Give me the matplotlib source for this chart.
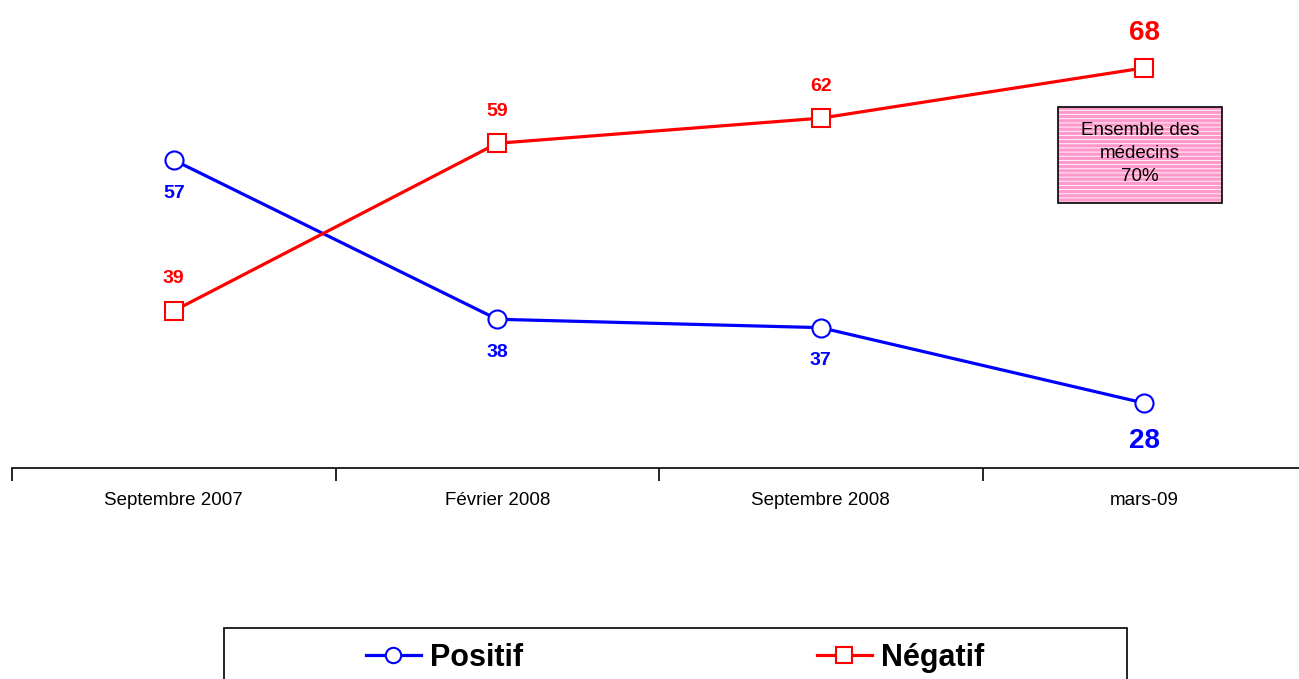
import matplotlib
matplotlib.use("Agg")
import matplotlib.pyplot as plt
from matplotlib.patches import Rectangle

plt.rcParams["font.family"] = ["Liberation Sans", "DejaVu Sans"]
plt.rcParams["hatch.linewidth"] = 0.6

# ---- data ----
periods = ["Septembre 2007", "Février 2008", "Septembre 2008", "mars-09"]
positif = [57, 38, 37, 28]
negatif = [39, 59, 62, 68]
note_text = "Ensemble des\nmédecins\n70%"

BLUE = "#0000FF"
RED = "#FF0000"
PINK = "#FF99CC"

fig = plt.figure(figsize=(12.99, 6.79), dpi=100)
ax = fig.add_axes([12 / 1299, 1 - 468 / 679, 1294 / 1299, 468 / 679])
ax.set_xlim(-0.5, 3.5)
ax.set_ylim(20.25, 76.1)

x = list(range(len(periods)))
ax.plot(x, positif, color=BLUE, lw=2.3, marker="o", ms=13,
        mfc="white", mec=BLUE, mew=1.5, label="Positif", clip_on=False, zorder=3)
ax.plot(x, negatif, color=RED, lw=2.3, marker="s", ms=13,
        mfc="white", mec=RED, mew=1.5, label="Négatif", clip_on=False, zorder=3)

# value labels, last point bigger
for i, (p, n) in enumerate(zip(positif, negatif)):
    last = i == len(periods) - 1
    fs = 20 if last else 14
    ax.annotate(str(p), (i, p), xytext=(0, -27 if last else -24),
                textcoords="offset points", ha="center", va="center",
                color=BLUE, fontsize=fs, fontweight="bold")
    ax.annotate(str(n), (i, n), xytext=(0, 25 if last else 23),
                textcoords="offset points", ha="center", va="center",
                color=RED, fontsize=fs, fontweight="bold")

# axes styling
for s in ["top", "right", "left"]:
    ax.spines[s].set_visible(False)
ax.spines["bottom"].set_linewidth(1.2)
ax.set_yticks([])
ax.set_xticks([-0.5, 0.5, 1.5, 2.5, 3.5])
ax.set_xticklabels([])
ax.tick_params(axis="x", which="major", length=9, width=1.2, direction="out")
ax.set_xticks(x, minor=True)
ax.set_xticklabels(periods, minor=True, fontsize=13.5)
ax.tick_params(axis="x", which="minor", length=0, pad=17)

# note box (hatched pink with black frame)
bx, by, bw, bh = 1058 / 1299, 1 - 203 / 679, 164 / 1299, 96 / 679
ax.add_patch(Rectangle((bx, by), bw, bh, transform=fig.transFigure,
                       facecolor=PINK, edgecolor="white", hatch="----",
                       lw=0, zorder=4, clip_on=False))
ax.add_patch(Rectangle((bx, by), bw, bh, transform=fig.transFigure,
                       facecolor="none", edgecolor="black", lw=1.2,
                       zorder=5, clip_on=False))
fig.text(bx + bw / 2, by + bh / 2 + 0.002, note_text, ha="center", va="center",
         fontsize=13.5, color="black", linespacing=1.45, zorder=6)

# legend box
fig.patches.append(Rectangle((224 / 1299, -30 / 679), 903 / 1299, 81 / 679,
                             transform=fig.transFigure, facecolor="white",
                             edgecolor="black", lw=1.2))
fig.legend(loc="center", bbox_to_anchor=(675 / 1299, 1 - 658 / 679),
           ncol=2, frameon=False, handlelength=1.8,
           handletextpad=0.3, columnspacing=9.6,
           prop={"weight": "bold", "size": 22}, markerscale=0.85)

fig.savefig("out.png", dpi=100)
